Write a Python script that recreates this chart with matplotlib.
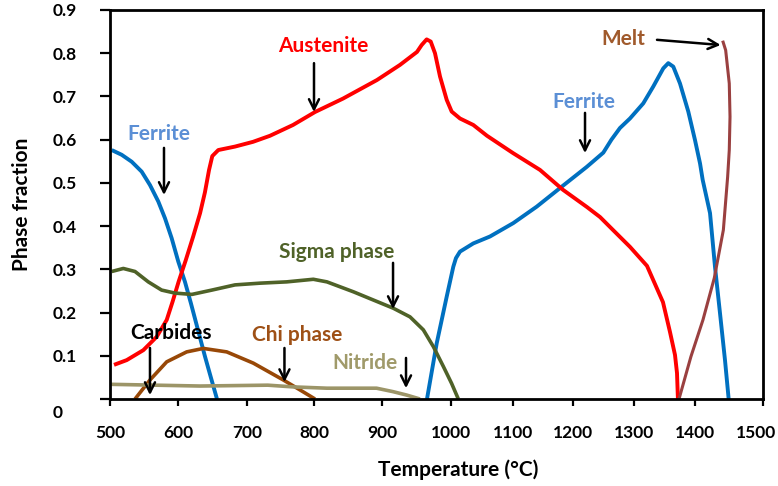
import numpy as np
import matplotlib
matplotlib.use("Agg")
import matplotlib.pyplot as plt
from matplotlib.transforms import ScaledTranslation

plt.rcParams['font.family'] = ['Lato', 'DejaVu Sans']

# ---------------- data ----------------
x_ticks = [500, 600, 700, 800, 900, 1000, 1100, 1200, 1300, 1400, 1500]
y_ticks = [0, 0.1, 0.2, 0.3, 0.4, 0.5, 0.6, 0.7, 0.8, 0.9]
y_tick_labels = ["0", "0.1", "0.2", "0.3", "0.4", "0.5", "0.6", "0.7", "0.8", "0.9"]

ferrite_low_T = [502.5, 517.2, 531.9, 546.6, 558.8, 571, 580.9, 590.7, 600.4, 610.1, 618.8,
                 628.9, 639, 647.8, 656.5]
ferrite_low_f = [0.576, 0.565, 0.549, 0.526, 0.495, 0.457, 0.418, 0.372, 0.318, 0.271, 0.221,
                 0.160, 0.099, 0.049, 0.0]

austenite_T = [505.9, 524.6, 549.0, 568.7, 583.4, 592, 601, 611, 622, 632, 639,
               645, 649.7, 658.4, 682.6, 709, 734.3, 768.7, 801.5, 842.6, 892.6, 926.1,
               950.7, 957.5, 964.7, 970.6, 976.8, 984.1, 993.8, 1001.1, 1014.5, 1036, 1058.1,
               1100, 1145, 1183.3, 1223, 1244.3, 1265.6, 1293.4, 1321.3, 1347.5, 1359,
               1367.2, 1370.5, 1372]
austenite_f = [0.079, 0.090, 0.113, 0.144, 0.183, 0.225, 0.272, 0.320, 0.376, 0.430, 0.478,
               0.530, 0.562, 0.576, 0.584, 0.595, 0.609, 0.634, 0.664, 0.695, 0.738, 0.773,
               0.803, 0.819, 0.832, 0.827, 0.800, 0.746, 0.692, 0.665, 0.649, 0.634, 0.609,
               0.569, 0.530, 0.484, 0.444, 0.421, 0.391, 0.352, 0.308, 0.224, 0.155,
               0.102, 0.060, 0.0]

ferrite_high_T = [965.2, 979.3, 993.8, 1003.7, 1008, 1014.5, 1036, 1062.9, 1100.5, 1139.5,
                  1178.3, 1222.5, 1249.7, 1263, 1277, 1293.4, 1315.2, 1331.6, 1348, 1356.2,
                  1364.4, 1375.4, 1389, 1400, 1407.4, 1411.3, 1422.1, 1429.4, 1436.8, 1444.1,
                  1449.5]
ferrite_high_f = [0.0, 0.129, 0.237, 0.306, 0.326, 0.341, 0.360, 0.376, 0.407, 0.445,
                  0.488, 0.537, 0.570, 0.600, 0.627, 0.649, 0.684, 0.723, 0.765, 0.777,
                  0.769, 0.730, 0.665, 0.599, 0.545, 0.507, 0.430, 0.306, 0.198, 0.090,
                  0.0]

melt_T = [1373.8, 1393.3, 1411.7, 1428.4, 1441.7, 1448, 1450.4, 1451.5, 1450.4, 1445.1, 1440.7]
melt_f = [0.0, 0.098, 0.183, 0.280, 0.391, 0.514, 0.576, 0.653, 0.730, 0.807, 0.829]

sigma_T = [502.5, 519.6, 536.8, 556.3, 575.9, 595.6, 620.1, 649.1, 682.6, 719.4, 759.3, 799,
           819, 858, 887.3, 916.4, 940.6, 959.9, 974.5, 989, 1001, 1011.8]
sigma_f = [0.295, 0.302, 0.295, 0.271, 0.252, 0.245, 0.242, 0.252, 0.264, 0.268, 0.271, 0.277,
           0.271, 0.248, 0.229, 0.210, 0.190, 0.160, 0.121, 0.075, 0.036, 0.0]

chi_T = [536.8, 558.8, 583.4, 612.6, 636.7, 670.6, 709.4, 754.2, 779.1, 801.5]
chi_f = [0.0, 0.044, 0.086, 0.109, 0.117, 0.109, 0.083, 0.044, 0.021, 0.0]

nitride_T = [500, 631.9, 731, 769, 819, 892, 916, 936, 955]
nitride_f = [0.034, 0.030, 0.032, 0.028, 0.025, 0.025, 0.017, 0.009, 0.0]

# ---------------- axis scale (uneven tick spacing of the original) ----------------
XSCALE_POS = [0, 68, 137, 204, 272, 341, 403, 463, 524, 585, 653]


def fwd(x):
    return np.interp(x, x_ticks, XSCALE_POS)


def inv(y):
    return np.interp(y, XSCALE_POS, x_ticks)


fig = plt.figure(figsize=(7.78, 4.86), dpi=100)
ax = fig.add_axes([110 / 778, 87 / 486, 653 / 778, 389 / 486])
ax.set_xscale('function', functions=(fwd, inv))
ax.set_xlim(500, 1500)
ax.set_ylim(0, 0.9)

C_FER = '#0070C0'
style = dict(solid_capstyle='butt', solid_joinstyle='round')
ax.plot(ferrite_low_T, ferrite_low_f, color=C_FER, lw=2.8, **style)
ax.plot(ferrite_high_T, ferrite_high_f, color=C_FER, lw=2.8, **style)
ax.plot(austenite_T, austenite_f, color='#FF0000', lw=2.8, **style)
ax.plot(sigma_T, sigma_f, color='#4F6228', lw=2.6, **style)
ax.plot(chi_T, chi_f, color='#984807', lw=2.6, **style)
ax.plot(nitride_T, nitride_f, color='#9C9568', lw=2.6, **style)
ax.plot(melt_T, melt_f, color='#9A4040', lw=2.2, **style)

# spines / ticks
for s in ax.spines.values():
    s.set_linewidth(2.0)
    s.set_color('black')

ax.set_xticks(x_ticks)
ax.set_xticklabels([str(t) for t in x_ticks])
ax.set_yticks(y_ticks)
ax.set_yticklabels(y_tick_labels)
ax.tick_params(axis='x', direction='out', length=5, width=1.6, pad=14, labelsize=12.5)
ax.tick_params(axis='y', direction='out', length=7, width=1.6, pad=34, labelsize=12.5)
for lab in ax.get_xticklabels() + ax.get_yticklabels():
    lab.set_fontweight('bold')
for lab in ax.get_yticklabels():
    lab.set_horizontalalignment('left')
zero_lab = ax.get_yticklabels()[0]
zero_lab.set_transform(zero_lab.get_transform() + ScaledTranslation(0, -12 / 100, fig.dpi_scale_trans))
last_lab = ax.get_xticklabels()[-1]
last_lab.set_transform(last_lab.get_transform() + ScaledTranslation(-7 / 100, 0, fig.dpi_scale_trans))

ax.set_xlabel('Temperature (°C)', fontsize=15, fontweight='bold')
ax.set_ylabel('Phase fraction', fontsize=15, fontweight='bold')
ax.xaxis.set_label_coords(0.533, -0.155)
ax.yaxis.set_label_coords(-0.119, 0.50)

# ---------------- annotations ----------------
def label(x, y, s, c):
    ax.text(x, y, s, color=c, fontsize=15, fontweight='bold', ha='center', va='center')


def arrow(x0, y0, x1, y1):
    ax.annotate('', xy=(x1, y1), xytext=(x0, y0),
                arrowprops=dict(arrowstyle='->,head_length=0.6,head_width=0.3',
                                lw=1.8, color='black', mutation_scale=12,
                                shrinkA=0, shrinkB=0))


label(813, 0.817, 'Austenite', '#FF0000')
arrow(800, 0.777, 800, 0.664)
label(572, 0.613, 'Ferrite', '#5B8FD5')
arrow(579.4, 0.581, 579.4, 0.472)
label(1218, 0.687, 'Ferrite', '#5B8FD5')
arrow(1219.7, 0.662, 1219.7, 0.569)
label(1282, 0.833, 'Melt', '#A05A2C')
arrow(1337.7, 0.831, 1437.7, 0.819)
label(833, 0.340, 'Sigma phase', '#4F6228')
arrow(916, 0.315, 916, 0.208)
label(590, 0.153, 'Carbides', 'black')
arrow(558.8, 0.118, 558.8, 0.009)
label(775, 0.148, 'Chi phase', '#9E5016')
arrow(755.9, 0.118, 755.9, 0.039)
label(875, 0.083, 'Nitride', '#A09A6A')
arrow(934.8, 0.095, 934.8, 0.025)

fig.savefig('out.png', dpi=100)
